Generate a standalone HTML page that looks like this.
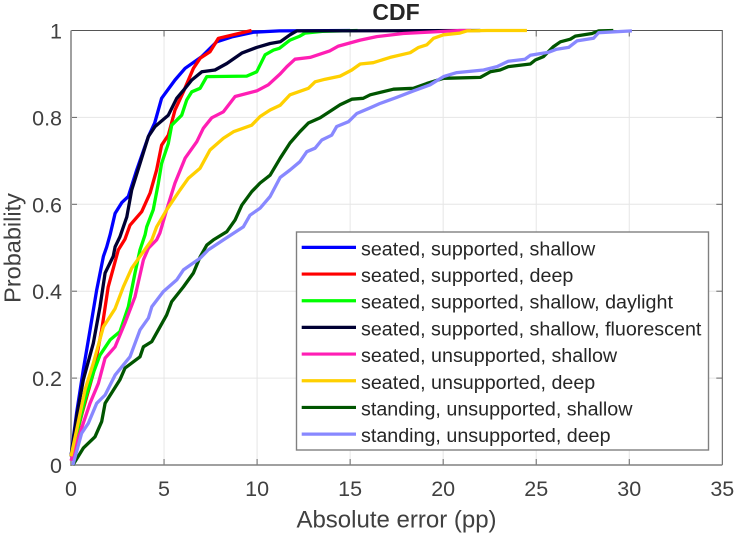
<!DOCTYPE html>
<html>
<head>
<meta charset="utf-8">
<title>CDF</title>
<style>
html,body{margin:0;padding:0;background:#fff;width:735px;height:536px;overflow:hidden}
svg{display:block;font-family:"Liberation Sans",sans-serif}
</style>
</head>
<body>
<svg id="chart" width="735" height="536" viewBox="0 0 735 536" xmlns="http://www.w3.org/2000/svg">
  <text x="396" y="20" text-anchor="middle" font-size="23" font-weight="bold" fill="#262626">CDF</text>
  <text x="396.5" y="527.5" text-anchor="middle" font-size="24" fill="#404040">Absolute error (pp)</text>
  <text transform="translate(20.5,248) rotate(-90)" text-anchor="middle" font-size="23.5" fill="#404040">Probability</text>
  <g id="grid"></g>
  <g id="axes"></g>
  <g id="series"></g>
  <g id="legend"></g>
</svg>
<script>
const xTicks = [0, 5, 10, 15, 20, 25, 30, 35];
const yTicks = [0, 0.2, 0.4, 0.6, 0.8, 1];
const yTickLabels = ['0', '0.2', '0.4', '0.6', '0.8', '1'];
const seriesNames = [
  'seated, supported, shallow',
  'seated, supported, deep',
  'seated, supported, shallow, daylight',
  'seated, supported, shallow, fluorescent',
  'seated, unsupported, shallow',
  'seated, unsupported, deep',
  'standing, unsupported, shallow',
  'standing, unsupported, deep'
];
const seriesColors = ['#0000ff', '#ff0000', '#00ff00', '#000033', '#ff1eb4', '#ffd000', '#005500', '#8888ff'];

const blueX = [0, 0.3, 0.66, 1.02, 1.38, 1.74, 1.92, 2.1, 2.37, 2.73, 3.08, 3.53, 4.16, 4.5, 4.87, 5.59, 6.13, 7.03, 7.83, 8.7, 9.8, 11.2, 15];
const blueY = [0.02, 0.12, 0.219, 0.31, 0.403, 0.48, 0.502, 0.53, 0.579, 0.604, 0.618, 0.679, 0.756, 0.787, 0.844, 0.886, 0.913, 0.94, 0.974, 0.986, 0.996, 0.999, 1];
const redX = [0, 0.6, 1.2, 1.65, 2.0, 2.54, 2.9, 3.17, 3.8, 4.25, 4.6, 4.87, 5.23, 5.59, 6.04, 6.58, 6.94, 7.47, 7.92, 8.9, 9.7];
const redY = [0.02, 0.12, 0.211, 0.311, 0.41, 0.495, 0.52, 0.552, 0.583, 0.626, 0.679, 0.736, 0.759, 0.817, 0.859, 0.913, 0.936, 0.951, 0.982, 0.992, 1];
const greenX = [0, 0.75, 1.2, 1.56, 2.1, 2.63, 3.08, 3.44, 3.71, 3.98, 4.07, 4.42, 4.69, 4.87, 5.23, 5.41, 5.95, 6.22, 6.49, 6.94, 7.3, 9.44, 9.98, 10.43, 10.88, 11.2, 11.77, 12.3, 12.58, 13.5, 15.4];
const greenY = [0.02, 0.15, 0.212, 0.253, 0.288, 0.307, 0.364, 0.442, 0.495, 0.53, 0.548, 0.587, 0.648, 0.694, 0.74, 0.782, 0.805, 0.84, 0.859, 0.867, 0.894, 0.895, 0.905, 0.944, 0.955, 0.959, 0.978, 0.987, 0.994, 0.998, 1];
const navyX = [0, 0.3, 0.66, 1.2, 1.56, 1.83, 2.27, 2.37, 2.63, 3.0, 3.26, 3.71, 4.16, 4.52, 5.23, 5.68, 6.13, 6.49, 7.03, 7.74, 8.37, 9.18, 9.98, 10.7, 11.24, 11.77, 12.13, 22];
const navyY = [0.02, 0.111, 0.196, 0.28, 0.364, 0.442, 0.48, 0.502, 0.525, 0.571, 0.633, 0.694, 0.756, 0.779, 0.805, 0.844, 0.867, 0.886, 0.905, 0.909, 0.924, 0.948, 0.961, 0.97, 0.974, 0.99, 0.999, 1];
const pinkX = [0, 0.48, 1.02, 1.47, 1.83, 2.37, 2.9, 3.44, 3.89, 4.16, 4.6, 4.78, 5.14, 5.59, 6.13, 6.76, 7.11, 7.56, 8.19, 8.82, 9.98, 10.6, 11.24, 11.6, 12.04, 12.85, 13.9, 14.37, 15.54, 16.43, 17.86, 20, 20.9, 21.5];
const pinkY = [0.01, 0.073, 0.142, 0.188, 0.246, 0.272, 0.327, 0.387, 0.472, 0.499, 0.518, 0.534, 0.587, 0.649, 0.706, 0.744, 0.775, 0.799, 0.813, 0.848, 0.861, 0.875, 0.9, 0.917, 0.934, 0.938, 0.953, 0.964, 0.978, 0.986, 0.993, 0.998, 1, 1];
const yellowX = [0, 0.3, 0.75, 1.2, 1.74, 2.37, 2.81, 3.26, 3.71, 4.34, 4.6, 5.14, 5.86, 6.31, 6.94, 7.47, 8.19, 8.73, 9.71, 10.16, 10.7, 11.24, 11.77, 12.76, 13.12, 13.66, 14.46, 15.09, 15.54, 16.24, 17.15, 18.23, 18.68, 19.12, 19.48, 20.02, 20.9, 21.27, 22.35, 24.5];
const yellowY = [0.02, 0.08, 0.173, 0.234, 0.318, 0.36, 0.41, 0.453, 0.48, 0.518, 0.548, 0.587, 0.633, 0.66, 0.683, 0.725, 0.752, 0.767, 0.782, 0.802, 0.817, 0.828, 0.852, 0.867, 0.882, 0.888, 0.895, 0.909, 0.923, 0.926, 0.938, 0.949, 0.961, 0.967, 0.982, 0.99, 0.994, 0.999, 1, 1];
const darkGreenX = [0.1, 0.66, 1.29, 1.65, 1.83, 2.63, 2.9, 3.71, 3.89, 4.34, 5.14, 5.41, 6.04, 6.58, 6.94, 7.3, 7.65, 8.37, 8.82, 9.18, 9.71, 10.16, 10.7, 11.24, 11.77, 12.3, 12.76, 13.39, 14.46, 15.09, 15.7, 16.08, 17.33, 18.4, 19.12, 20.02, 21.99, 22.53, 23.06, 23.5, 24.68, 24.95, 25.39, 25.93, 26.3, 26.83, 27.1, 28, 28.35, 29.14];
const darkGreenY = [0, 0.039, 0.065, 0.1, 0.142, 0.196, 0.223, 0.249, 0.272, 0.284, 0.345, 0.376, 0.41, 0.442, 0.479, 0.506, 0.518, 0.537, 0.564, 0.598, 0.629, 0.649, 0.667, 0.706, 0.741, 0.767, 0.787, 0.799, 0.829, 0.842, 0.844, 0.852, 0.865, 0.867, 0.878, 0.89, 0.892, 0.905, 0.909, 0.917, 0.923, 0.932, 0.94, 0.963, 0.974, 0.98, 0.987, 0.993, 0.999, 1];
const lilacX = [0.1, 0.57, 0.93, 1.38, 1.83, 2.37, 3.17, 3.71, 4.16, 4.34, 4.96, 5.68, 6.04, 6.94, 7.38, 8.19, 9.26, 9.62, 10.16, 10.7, 11.24, 11.77, 12.3, 12.67, 13.12, 13.48, 14.01, 14.28, 14.91, 15.36, 16.08, 16.6, 17.5, 18.4, 19.3, 20.02, 20.73, 22.17, 22.89, 23.5, 24.4, 24.68, 25.67, 26.1, 26.74, 27.19, 28.08, 28.35, 30.14];
const lilacY = [0, 0.073, 0.096, 0.142, 0.161, 0.207, 0.249, 0.311, 0.338, 0.364, 0.399, 0.426, 0.449, 0.476, 0.495, 0.518, 0.548, 0.575, 0.591, 0.618, 0.662, 0.679, 0.698, 0.721, 0.729, 0.748, 0.759, 0.779, 0.79, 0.809, 0.822, 0.832, 0.846, 0.861, 0.875, 0.894, 0.903, 0.909, 0.917, 0.929, 0.934, 0.943, 0.95, 0.957, 0.961, 0.976, 0.982, 0.995, 0.999];

const seriesXs = [blueX, redX, greenX, navyX, pinkX, yellowX, darkGreenX, lilacX];
const seriesYs = [blueY, redY, greenY, navyY, pinkY, yellowY, darkGreenY, lilacY];

const NS = 'http://www.w3.org/2000/svg';
const plotLeft = 71, plotRight = 722.3, plotTop = 30.5, plotBottom = 465;
const xMin = 0, xMax = 35, yMin = 0, yMax = 1;
function xScale(v) { return plotLeft + (v - xMin) / (xMax - xMin) * (plotRight - plotLeft); }
function yScale(v) { return plotBottom - (v - yMin) / (yMax - yMin) * (plotBottom - plotTop); }
function make(tag, attrs, parent) {
  const el = document.createElementNS(NS, tag);
  for (const k in attrs) el.setAttribute(k, attrs[k]);
  parent.appendChild(el);
  return el;
}

const grid = document.getElementById('grid');
const axes = document.getElementById('axes');
const series = document.getElementById('series');
const legend = document.getElementById('legend');

xTicks.forEach(function (t) {
  const x = xScale(t);
  if (t > xMin && t < xMax) {
    const g = make('line', { x1: x, x2: x, y1: plotTop, y2: plotBottom, stroke: '#e6e6e6', 'stroke-width': 1 }, grid);
    
    
    const t1 = make('line', { x1: x, x2: x, y1: plotBottom, y2: plotBottom - 6, stroke: '#666', 'stroke-width': 1 }, axes);
    
    
    const t2 = make('line', { x1: x, x2: x, y1: plotTop, y2: plotTop + 6, stroke: '#666', 'stroke-width': 1 }, axes);
    
    
  }
  const lab = make('text', { x: x, y: 496, 'text-anchor': 'middle', 'font-size': 21.5, fill: '#404040' }, axes);
  
  
  lab.textContent = String(t);
});

yTicks.forEach(function (t, i) {
  const y = yScale(t);
  if (t > yMin && t < yMax) {
    const g = make('line', { x1: plotLeft, x2: plotRight, y1: y, y2: y, stroke: '#e6e6e6', 'stroke-width': 1 }, grid);
    
    
    const t1 = make('line', { x1: plotLeft, x2: plotLeft + 6, y1: y, y2: y, stroke: '#666', 'stroke-width': 1 }, axes);
    
    
    const t2 = make('line', { x1: plotRight, x2: plotRight - 6, y1: y, y2: y, stroke: '#666', 'stroke-width': 1 }, axes);
    
    
  }
  const lab = make('text', { x: 62, y: y + 8, 'text-anchor': 'end', 'font-size': 21.5, fill: '#404040' }, axes);
  
  
  lab.textContent = yTickLabels[i];
});

const topRightAxes = make('path', {
  d: 'M' + plotLeft + ' ' + plotTop + 'L' + plotRight + ' ' + plotTop + 'L' + plotRight + ' ' + plotBottom,
  fill: 'none', stroke: '#555', 'stroke-width': 1
}, axes);


const leftAxis = make('line', { x1: plotLeft, x2: plotLeft, y1: plotTop, y2: plotBottom + 1, stroke: '#a0a0a0', 'stroke-width': 2 }, axes);


const bottomAxis = make('line', { x1: plotLeft, x2: plotRight, y1: plotBottom, y2: plotBottom, stroke: '#808080', 'stroke-width': 1.6 }, axes);



seriesNames.forEach(function (name, i) {
  const xs = seriesXs[i], ys = seriesYs[i];
  const pts = xs.map(function (v, j) { return xScale(v).toFixed(1) + ',' + yScale(ys[j]).toFixed(1); }).join(' ');
  const line = make('polyline', { points: pts, fill: 'none', stroke: seriesColors[i], 'stroke-width': 3.3, 'stroke-linejoin': 'round' }, series);
  
  
});

const legendBox = make('rect', { x: 296.5, y: 232, width: 412, height: 218, fill: '#fff', stroke: '#808080', 'stroke-width': 1.4 }, legend);



seriesNames.forEach(function (name, i) {
  const y = 247.4 + i * 26.67;
  const swatch = make('line', { x1: 301.7, x2: 356, y1: y, y2: y, stroke: seriesColors[i], 'stroke-width': 3.2 }, legend);
  
  
  const label = make('text', { x: 361, y: y + 8, 'font-size': 19.7, fill: '#262626' }, legend);
  
  
  label.textContent = name;
});
</script>
</body>
</html>
